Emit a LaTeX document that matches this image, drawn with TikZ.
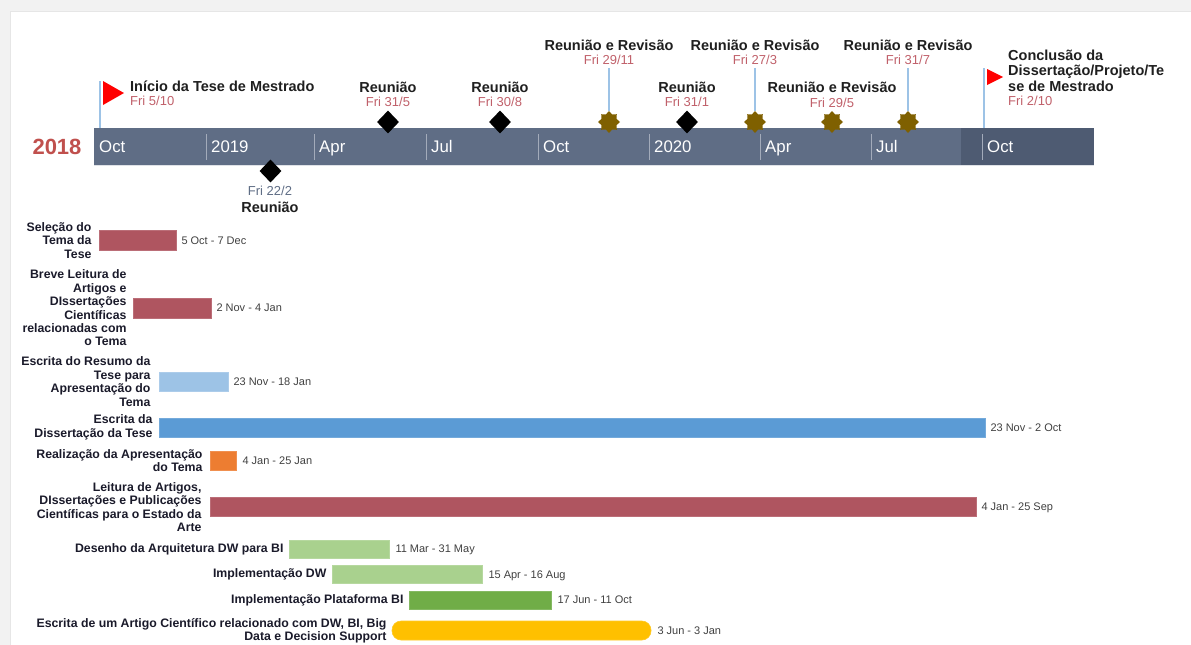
\documentclass[tikz,border=0pt]{standalone}
\usepackage{fontspec}
\setmainfont{Liberation Sans}
\usetikzlibrary{shapes.geometric}
\definecolor{framec}{HTML}{F2F2F2}
\definecolor{frameedge}{HTML}{E6E6E6}
\definecolor{barc}{HTML}{5F6D85}
\definecolor{bardark}{HTML}{4E5B72}
\definecolor{sepc}{HTML}{A3ABBA}
\definecolor{yearc}{HTML}{C0504D}
\definecolor{datec}{HTML}{C0606A}
\definecolor{slatec}{HTML}{5F6D85}
\definecolor{titlec}{HTML}{1F1F1F}
\definecolor{taskc}{HTML}{1A1A2A}
\definecolor{rangec}{HTML}{404040}
\definecolor{redbar}{HTML}{AF5560}
\definecolor{lblue}{HTML}{9DC3E6}
\definecolor{mblue}{HTML}{5B9BD5}
\definecolor{orangec}{HTML}{ED7D31}
\definecolor{lgreen}{HTML}{A9D18E}
\definecolor{greenc}{HTML}{70AD47}
\definecolor{yellowc}{HTML}{FFC000}
\definecolor{starc}{HTML}{7F6000}
\definecolor{polec}{HTML}{9DC3E6}
\tikzset{
  ttl/.style={font=\bfseries\fontsize{14.5}{16}\selectfont, text=titlec, inner sep=0pt, text height=10.4pt, text depth=0pt},
  dt/.style={font=\fontsize{13}{15}\selectfont, text=datec, inner sep=0pt, text height=9.4pt, text depth=0pt},
  month/.style={font=\fontsize{16.8}{18}\selectfont, text=white, inner sep=0pt, text height=12pt, text depth=0pt, anchor=west},
  sepline/.style={draw=sepc, line width=1pt},
  tasklbl/.style={font=\bfseries\fontsize{12.3}{13.4}\selectfont, text=taskc, inner sep=0pt, align=right, anchor=east},
  daterange/.style={font=\fontsize{11}{13}\selectfont, text=rangec, inner sep=0pt, text height=7.9pt, text depth=0pt, anchor=west},
  gbar/.style={rectangle, inner sep=0pt, draw=#1!85!white, fill=#1, line width=0.6pt},
  dmd/.style={diamond, fill=black, inner sep=0pt, minimum width=22pt, minimum height=23pt},
  seal/.style={star, star points=8, star point ratio=1.35, fill=starc, inner sep=0pt, minimum size=22pt},
  pole/.style={draw=polec, line width=1.3pt},
  flagtri/.style={fill=red, draw=none}
}
\begin{document}
\begin{tikzpicture}[x=1pt, y=-1pt]
\useasboundingbox (0,0) rectangle (1191,645);
% frame
\fill[framec] (0,0) rectangle (1191,11);
\fill[framec] (0,0) rectangle (10,645);
\draw[frameedge, line width=1.2pt] (10,11.5) -- (1191,11.5);
\draw[frameedge, line width=1.2pt] (10.5,11) -- (10.5,645);

% timeline bar
\node[rectangle, fill=barc, inner sep=0pt, minimum width=1000pt, minimum height=37pt] (bar) at (594,146.5) {};
\fill[bardark] (961,128) rectangle (1094,165);
\draw[white!80!barc, line width=1.2pt] (94,165.6) -- (1094,165.6);
\node[font=\bfseries\fontsize{22}{24}\selectfont, text=yearc, inner sep=0pt] (year) at (57,146.5) {2018};
\foreach \s in {206,314,426,538,649,760,871,982} {
  \draw[sepline] (\s,134) -- (\s,160);
}
\node[month] (mo1) at (99,146) {Oct};
\node[month] (mo2) at (211,146) {2019};
\node[month] (mo3) at (319,146) {Apr};
\node[month] (mo4) at (431,146) {Jul};
\node[month] (mo5) at (543,146) {Oct};
\node[month] (mo6) at (654,146) {2020};
\node[month] (mo7) at (765,146) {Apr};
\node[month] (mo8) at (876,146) {Jul};
\node[month] (mo9) at (987,146) {Oct};

% milestone: inicio
\coordinate (p1top) at (100,81);
\draw[pole] (p1top) -- (p1top |- bar.north);
\fill[flagtri] (103,81) -- (124,93) -- (103,105) -- cycle;
\node[ttl, anchor=west] (t1) at (130,86) {Início da Tese de Mestrado};
\node[dt, anchor=west] (d1) at (130,101) {Fri 5/10};

% milestone: 22/2
\node[dmd] (k2) at (270.5,171) {};
\node[dt, text=slatec] (d2) at (270,191) {Fri 22/2};
\node[ttl] (t2) at (270,207) {Reunião};

% 31/5
\node[dmd] (k3) at (388,122) {};
\node[ttl] (t3) at (388,87) {Reunião};
\node[dt] (d3) at (388,102) {Fri 31/5};

% 30/8
\node[dmd] (k4) at (500,122) {};
\node[ttl] (t4) at (500,87) {Reunião};
\node[dt] (d4) at (500,102) {Fri 30/8};

% 29/11
\node[seal] (k5) at (609,122) {};
\node[ttl] (t5) at (609,45) {Reunião e Revisão};
\node[dt] (d5) at (609,60) {Fri 29/11};
\draw[pole] ([yshift=-3pt]d5.south) -- (k5.north);

% 31/1
\node[dmd] (k6) at (687,122) {};
\node[ttl] (t6) at (687,87) {Reunião};
\node[dt] (d6) at (687,102) {Fri 31/1};

% 27/3
\node[seal] (k7) at (755,122) {};
\node[ttl] (t7) at (755,45) {Reunião e Revisão};
\node[dt] (d7) at (755,60) {Fri 27/3};
\draw[pole] ([yshift=-3pt]d7.south) -- (k7.north);

% 29/5
\node[seal] (k8) at (832,122) {};
\node[ttl] (t8) at (832,87) {Reunião e Revisão};
\node[dt] (d8) at (832,103) {Fri 29/5};

% 31/7
\node[seal] (k9) at (908,122) {};
\node[ttl] (t9) at (908,45) {Reunião e Revisão};
\node[dt] (d9) at (908,60) {Fri 31/7};
\draw[pole] ([yshift=-3pt]d9.south) -- (k9.north);

% conclusao
\coordinate (p2top) at (984,68);
\draw[pole] (p2top) -- (p2top |- bar.north);
\fill[flagtri] (987,69) -- (1003,77) -- (987,85) -- cycle;
\node[font=\bfseries\fontsize{14.5}{15.5}\selectfont, text=titlec, inner sep=0pt, align=left, anchor=north west] (t10) at (1008,49.5) {Conclusão da\\Dissertação/Projeto/Te\\se de Mestrado};
\node[dt, anchor=west] (d10) at (1008,101) {Fri 2/10};

% gantt bars
\node[gbar=redbar, minimum width=77pt, minimum height=20pt] (b1) at (137.5,240.5) {};
\node[tasklbl] (l1) at ([xshift=-7pt]b1.west) {Seleção do\\Tema da\\Tese};
\node[daterange] (r1) at ([xshift=5pt]b1.east) {5 Oct - 7 Dec};

\node[gbar=redbar, minimum width=78pt, minimum height=20pt] (b2) at (172,308) {};
\node[tasklbl] (l2) at ([xshift=-6pt]b2.west) {Breve Leitura de\\Artigos e\\DIssertações\\Científicas\\relacionadas com\\o Tema};
\node[daterange] (r2) at ([xshift=5pt]b2.east) {2 Nov - 4 Jan};

\node[gbar=lblue, minimum width=69pt, minimum height=19pt] (b3) at (193.5,381.5) {};
\node[tasklbl] (l3) at ([xshift=-8pt]b3.west) {Escrita do Resumo da\\Tese para\\Apresentação do\\Tema};
\node[daterange] (r3) at ([xshift=5pt]b3.east) {23 Nov - 18 Jan};

\node[gbar=mblue, minimum width=826pt, minimum height=19pt] (b4) at (572,427.5) {};
\node[tasklbl] (l4) at ([xshift=-6pt]b4.west) {Escrita da\\Dissertação da Tese};
\node[daterange] (r4) at ([xshift=5pt]b4.east) {23 Nov - 2 Oct};

\node[gbar=orangec, minimum width=26pt, minimum height=19pt] (b5) at (223,460.5) {};
\node[tasklbl] (l5) at ([xshift=-7pt]b5.west) {Realização da Apresentação\\do Tema};
\node[daterange] (r5) at ([xshift=6pt]b5.east) {4 Jan - 25 Jan};

\node[gbar=redbar, minimum width=766pt, minimum height=19pt] (b6) at (593,507) {};
\node[tasklbl] (l6) at ([xshift=-8pt]b6.west) {Leitura de Artigos,\\DIssertações e Publicações\\Científicas para o Estado da\\Arte};
\node[daterange] (r6) at ([xshift=5pt]b6.east) {4 Jan - 25 Sep};

\node[gbar=lgreen, minimum width=100pt, minimum height=18pt] (b7) at (339,549) {};
\node[tasklbl] (l7) at ([xshift=-5pt]b7.west) {Desenho da Arquitetura DW para BI};
\node[daterange] (r7) at ([xshift=6pt]b7.east) {11 Mar - 31 May};

\node[gbar=lgreen, minimum width=150pt, minimum height=18pt] (b8) at (407,574.5) {};
\node[tasklbl] (l8) at ([xshift=-5pt]b8.west) {Implementação DW};
\node[daterange] (r8) at ([xshift=6pt]b8.east) {15 Apr - 16 Aug};

\node[gbar=greenc, minimum width=142pt, minimum height=18pt] (b9) at (480,600) {};
\node[tasklbl] (l9) at ([xshift=-5pt]b9.west) {Implementação Plataforma BI};
\node[daterange] (r9) at ([xshift=6pt]b9.east) {17 Jun - 11 Oct};

\node[gbar=yellowc, rounded corners=9pt, minimum width=259pt, minimum height=19pt] (b10) at (521.5,630.5) {};
\node[tasklbl] (l10) at ([xshift=-5pt]b10.west) {Escrita de um Artigo Científico relacionado com DW, BI, Big\\Data e Decision Support};
\node[daterange] (r10) at ([xshift=6pt]b10.east) {3 Jun - 3 Jan};
\end{tikzpicture}
\end{document}
